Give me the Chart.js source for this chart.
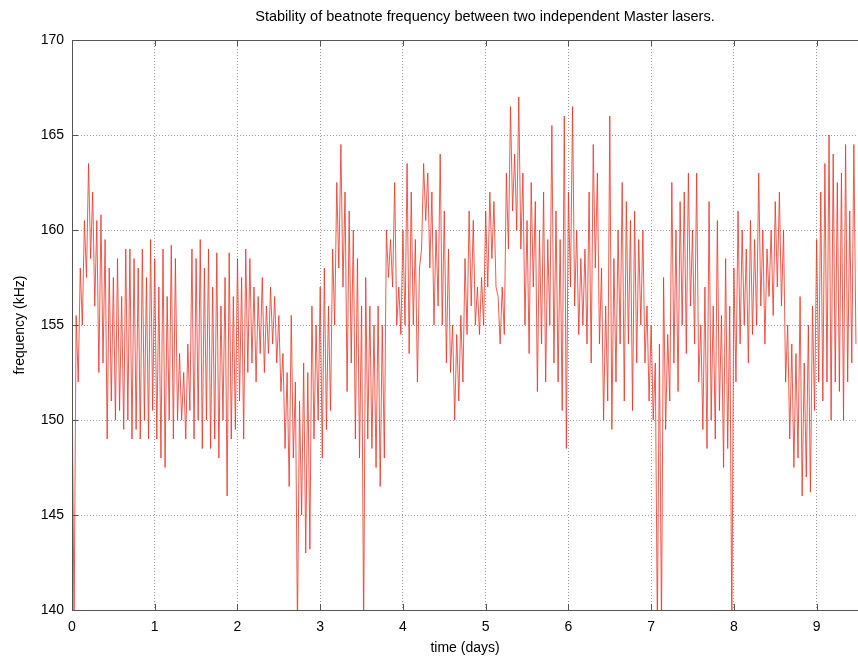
<!DOCTYPE html>
<html>
<head>
<meta charset="utf-8">
<title>Stability of beatnote frequency</title>
<script src="https://cdn.jsdelivr.net/npm/chart.js@4/dist/chart.umd.min.js"></script>
<style>
  html, body { margin: 0; padding: 0; background: #fff; }
  #wrap { width: 858px; height: 657px; position: relative; }
</style>
</head>
<body>
<div id="wrap"><canvas id="beatChart"></canvas></div>
<script>
// frequency (kHz), one value every 0.025 day
const sampleStep = 0.025;
const freqDay0 = [153,139,155.5,152,158,155,160.5,157.5,163.5,158.5,162,156,160.5,152.5,160.8,153,159.5,149,158,151,157.5,150,158.5,150.5,156.5,149.5,159,150,159,149,158.5,149.5,158,149,159,150,157.5,149,159.5,150.5];
const freqDay1 = [158.5,149,157,148,159,147.5,156.5,150,159.2,149,158.5,150,153.5,150,152.5,149,154,150.5,159,149,158.5,150,159.5,148.5,158,150,159,148.5,157,149,158.8,148,156,150,157.5,146,158.8,149,156.5,149.5];
const freqDay2 = [158.5,151,157.5,149,159,152.5,158.5,153,157,152,156.5,153.5,157.5,152.5,156,153.5,157,154,156.5,153,155.5,151.5,153.5,148.5,152.5,146.5,155.5,148,152,139,151,145,153,143,152.5,143.2,156,149,155,150];
const freqDay3 = [157,148,158,149.5,156,150.5,159,155,162.5,158,164.5,157,162,151.5,161,153,160,149,158.5,148,156,139,157.5,149,156,148.5,155,147.5,156,146.5,155,148,160,157.5,159.5,157,162.5,155,157,154.5];
const freqDay4 = [160,155,163.5,153.5,162,155,159.5,152,158,159,163.5,160.5,163,158,162,155,160,156,164,155,161,153,159,152.5,155,150,154.5,151,155.5,152,158.5,154.5,161,156,160.5,155,157,154.5,157.5,155];
const freqDay5 = [161,157,162,158.5,161.5,157,156.5,154,157,154.5,163,159,166.5,161,164,160,167,159,163,155,160.5,153.5,162.5,157,161.5,151.5,160,154,162,152,159.5,155,165.5,153,161,152,159.5,150.5,166,148.5];
const freqDay6 = [162,157,166.5,156,160,154.5,158.5,155,159,154,162,153,164.5,158,163,154,158,150,156,151,166,149.5,158.5,152,160,154,162.5,151,161.5,154,160.5,150.5,161,153,159.5,155,160,153,156,151];
const freqDay7 = [155,150,153,139,154,139,157.5,149.5,154.5,151,162.5,153,160,151.5,161.5,155,162,153.5,163,156,160,154,163,152,155,149.5,157,148.5,161.5,150,156,149,160.5,150.5,155.5,147.5,158.5,148.5,156,139];
const freqDay8 = [158,152,161,154,160,155,159,153,160.5,154.5,159.5,155,163,156,160,154,159,156.5,160,155.5,161.5,157,162,156,160,152,155,149,154,147.5,153.5,148,156.5,146,153,147,155,146.2,156,150.5];
const freqDay9 = [159.5,152,162,151,163.5,152,165,150,164,152,162.5,151.5,163,150,164.5,152,161,153,164.5,154];

const dayTicks = [0, 1, 2, 3, 4, 5, 6, 7, 8, 9];
const freqTicks = [140, 145, 150, 155, 160, 165, 170];

const allFreq = [].concat(freqDay0, freqDay1, freqDay2, freqDay3, freqDay4,
                          freqDay5, freqDay6, freqDay7, freqDay8, freqDay9);
const points = allFreq.map((f, i) => ({ x: +(i * sampleStep).toFixed(3), y: f }));

const fontFam = '"Liberation Sans", "DejaVu Sans", sans-serif';

// gnuplot-like frame, tick marks and title
const framePlugin = {
    id: 'frame',
    afterDraw(chart) {
        const { ctx, chartArea: a, scales } = chart;
        ctx.save();
        ctx.strokeStyle = '#555';
        ctx.lineWidth = 1;
        ctx.beginPath();
        ctx.moveTo(a.left + 0.5, a.bottom + 0.5);
        ctx.lineTo(a.left + 0.5, a.top + 0.5);
        ctx.lineTo(a.right, a.top + 0.5);
        ctx.moveTo(a.left, a.bottom + 0.5);
        ctx.lineTo(a.right, a.bottom + 0.5);
        // small inward ticks
        dayTicks.forEach(d => {
            const x = Math.round(scales.x.getPixelForValue(d)) + 0.5;
            ctx.moveTo(x, a.bottom); ctx.lineTo(x, a.bottom - 6);
            ctx.moveTo(x, a.top); ctx.lineTo(x, a.top + 6);
        });
        freqTicks.forEach(v => {
            const y = Math.round(scales.y.getPixelForValue(v)) + 0.5;
            ctx.moveTo(a.left, y); ctx.lineTo(a.left + 6, y);
        });
        ctx.stroke();

        ctx.fillStyle = '#000';
        ctx.font = '14.5px ' + fontFam;
        ctx.textAlign = 'center';
        ctx.textBaseline = 'middle';
        ctx.fillText('Stability of beatnote frequency between two independent Master lasers.', 485, 17);
        ctx.restore();
    }
};

new Chart(document.getElementById('beatChart'), {
    type: 'line',
    data: {
        datasets: [{
            label: 'beatnote',
            data: points,
            borderColor: 'rgba(236, 50, 34, 0.8)',
            borderWidth: 1,
            pointRadius: 0,
            tension: 0,
            fill: false
        }]
    },
    options: {
        responsive: true,
        maintainAspectRatio: false,
        animation: false,
        layout: { padding: { top: 40, right: 0, left: 0, bottom: 0 } },
        plugins: {
            legend: { display: false },
            tooltip: { enabled: false },
            title: { display: false }
        },
        scales: {
            x: {
                type: 'linear',
                min: 0,
                max: 9.5,
                afterBuildTicks: scale => {
                    scale.ticks = dayTicks.map(v => ({ value: v }));
                },
                afterFit: scale => { scale.height = 47; },
                ticks: {
                    color: '#000',
                    font: { family: fontFam, size: 14 },
                    padding: 9,
                    maxRotation: 0
                },
                grid: { color: '#9a9a9a', lineWidth: 1, drawTicks: false },
                border: { display: false, dash: [1, 2] },
                title: {
                    display: true,
                    text: 'time (days)',
                    color: '#000',
                    font: { family: fontFam, size: 14 },
                    padding: { top: 0, bottom: 0 }
                }
            },
            y: {
                min: 140,
                max: 170,
                afterBuildTicks: scale => {
                    scale.ticks = freqTicks.map(v => ({ value: v }));
                },
                afterFit: scale => { scale.width = 72; },
                ticks: {
                    color: '#000',
                    font: { family: fontFam, size: 14 },
                    padding: 8
                },
                grid: { color: '#9a9a9a', lineWidth: 1, drawTicks: false },
                border: { display: false, dash: [1, 2] },
                title: {
                    display: true,
                    text: 'frequency (kHz)',
                    color: '#000',
                    font: { family: fontFam, size: 14 },
                    padding: { top: 12, bottom: 0 }
                }
            }
        }
    },
    plugins: [framePlugin]
});
</script>
</body>
</html>
